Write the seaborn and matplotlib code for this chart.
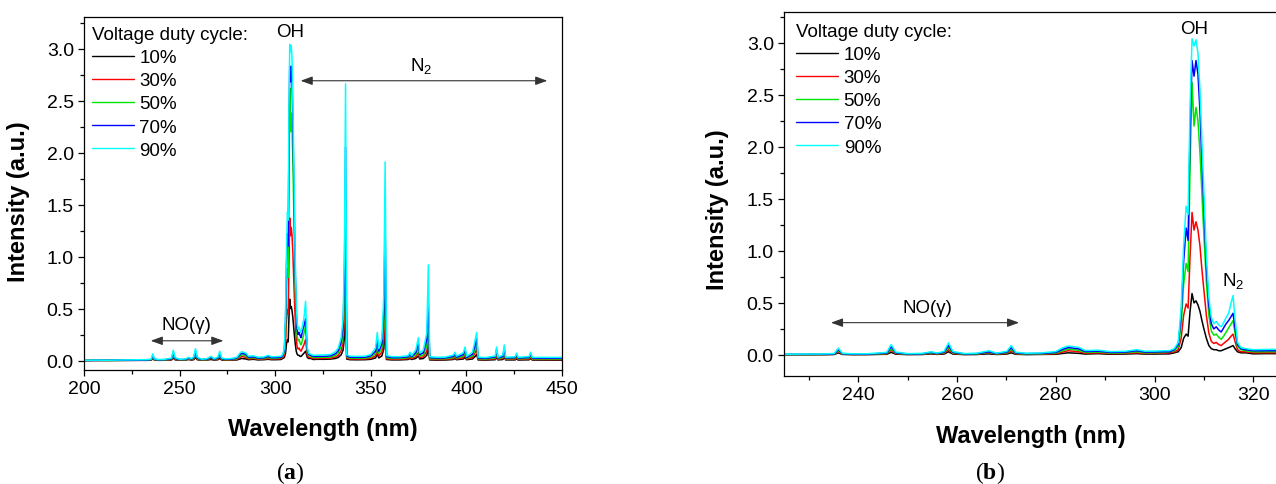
import matplotlib
matplotlib.use("Agg")
import matplotlib.pyplot as plt
from matplotlib.lines import Line2D
from matplotlib.ticker import MultipleLocator
import pandas as pd
import seaborn as sns

# Emission spectrum sampled on a shared wavelength grid (nm)
wavelength = [
    200, 206, 212, 218, 224, 230, 233,
    235.2, 236.0, 236.8, 239, 242, 245.8, 246.7, 247.6, 250, 253, 254.8, 256,
    257.4, 258.3, 259.2, 261.5, 264, 266.5, 268, 270.1, 271.0, 271.9, 274, 277,
    280, 281.5, 282.5, 283.5, 284.7, 286, 288.6, 291, 294, 296.4, 298, 300, 302,
    303.0, 304.0, 304.8, 305.4, 305.9, 306.4, 306.8, 307.2, 307.6, 308.0, 308.4,
    308.8, 309.2, 309.6, 310.0, 310.5, 311.0, 311.5, 312.0, 312.5, 313.0, 313.5,
    314.0, 314.5, 315.0, 315.5, 315.9, 316.3, 316.8, 317.5, 318.5, 320.0,
    322, 326, 329, 331.5, 333, 334.5, 335.5, 336.2, 336.8, 337.4, 339, 343, 347,
    350, 352.5, 353.4, 354.2, 355.8, 356.8, 357.5, 358.2, 361, 365, 369.5, 370.5,
    371.3, 373.5, 374.9, 375.6, 377.5, 379.3, 380.1, 380.8, 384, 389, 393.2,
    394.0, 394.8, 398.4, 399.3, 400.1, 403.2, 404.6, 405.4, 406.1, 410, 415.1,
    415.8, 416.5, 419.1, 419.8, 420.5, 425.5, 426.3, 427.0, 432.8, 433.6, 434.4,
    440, 445, 450,
]

duty_10 = [
    .000, .001, .000, .001, .001, .002, .002,
    .004, .020, .005, .002, .003, .006, .025, .007, .003, .004, .010, .005,
    .008, .030, .008, .003, .004, .010, .004, .008, .020, .006, .003, .004,
    .006, .014, .020, .018, .015, .008, .012, .006, .008, .012, .008, .008, .010,
    .010, .020, .030, .070, .160, .200, .180, .420, .590, .500, .520,
    .480, .420, .330, .250, .160, .090, .060, .050, .050, .040, .040,
    .050, .060, .070, .080, .090, .060, .030, .020, .020, .010,
    .012, .012, .014, .020, .030, .055, .100, .220, .530, .015, .008, .007, .008,
    .012, .025, .060, .025, .045, .110, .340, .010, .006, .006, .010, .020,
    .010, .020, .045, .015, .020, .050, .120, .006, .004, .005, .010,
    .020, .008, .015, .030, .008, .015, .040, .060, .006, .004, .008,
    .030, .006, .010, .035, .006, .006, .018, .005, .007, .020, .005,
    .004, .004, .004,
]

duty_30 = [
    .000, .001, .001, .002, .002, .003, .003,
    .006, .030, .007, .004, .004, .010, .045, .012, .005, .006, .015, .008,
    .014, .050, .014, .005, .006, .020, .007, .014, .040, .011, .006, .007,
    .012, .028, .040, .036, .030, .016, .020, .012, .014, .020, .014, .015, .017,
    .020, .030, .050, .160, .380, .490, .450, .950, 1.370, 1.200, 1.280,
    1.200, 1.050, .820, .620, .380, .210, .130, .110, .120, .100, .090,
    .110, .130, .150, .180, .200, .130, .050, .030, .030, .020,
    .020, .021, .023, .034, .050, .095, .170, .380, .920, .025, .015, .014, .015,
    .022, .045, .100, .045, .080, .190, .560, .018, .012, .012, .018, .032,
    .018, .035, .080, .028, .035, .090, .220, .012, .010, .011, .018,
    .035, .015, .028, .055, .015, .030, .075, .110, .012, .009, .016,
    .055, .012, .020, .065, .012, .013, .032, .011, .014, .035, .011,
    .010, .010, .010,
]

duty_50 = [
    .000, .002, .001, .002, .003, .004, .004,
    .008, .040, .010, .005, .006, .014, .060, .016, .007, .008, .020, .011,
    .020, .070, .019, .007, .009, .025, .010, .020, .055, .015, .009, .010,
    .018, .042, .055, .052, .044, .024, .028, .018, .020, .030, .020, .021, .024,
    .030, .040, .080, .280, .680, .880, .800, 1.800, 2.620, 2.200, 2.380,
    2.250, 1.950, 1.550, 1.150, .700, .380, .230, .190, .200, .170, .150,
    .180, .220, .260, .300, .330, .210, .080, .050, .040, .030,
    .030, .031, .034, .050, .075, .140, .250, .600, 1.550, .035, .024, .022, .024,
    .034, .070, .150, .070, .120, .320, .950, .028, .020, .020, .028, .045,
    .028, .055, .120, .042, .055, .140, .380, .020, .017, .018, .028,
    .050, .024, .042, .080, .023, .045, .110, .160, .018, .015, .025,
    .080, .018, .030, .095, .018, .020, .046, .017, .021, .050, .017,
    .016, .016, .016,
]

duty_70 = [
    .000, .002, .002, .003, .004, .005, .006,
    .010, .050, .012, .007, .008, .018, .080, .021, .009, .011, .025, .014,
    .026, .090, .025, .010, .012, .030, .013, .026, .070, .020, .012, .014,
    .024, .055, .070, .066, .058, .032, .036, .024, .026, .040, .027, .028, .031,
    .030, .050, .100, .380, .900, 1.220, 1.100, 2.150, 2.830, 2.680, 2.830,
    2.700, 2.350, 1.850, 1.400, .850, .480, .300, .250, .270, .240, .220,
    .260, .300, .330, .370, .400, .260, .100, .060, .050, .040,
    .040, .041, .045, .066, .095, .180, .320, .800, 2.050, .045, .032, .030, .032,
    .045, .090, .200, .090, .160, .450, 1.350, .038, .028, .028, .036, .060,
    .036, .075, .160, .056, .075, .200, .550, .028, .024, .025, .040,
    .065, .032, .056, .105, .030, .060, .150, .210, .025, .021, .034,
    .105, .025, .040, .120, .025, .027, .058, .024, .029, .065, .024,
    .022, .022, .022,
]

duty_90 = [
    .002, .004, .003, .005, .006, .008, .009,
    .014, .065, .016, .010, .011, .024, .100, .028, .012, .015, .030, .018,
    .034, .115, .032, .013, .016, .040, .017, .034, .090, .026, .016, .019,
    .032, .070, .085, .080, .072, .042, .045, .032, .034, .050, .036, .037, .040,
    .040, .060, .120, .450, 1.050, 1.430, 1.350, 2.400, 3.040, 2.970, 3.030,
    2.900, 2.550, 2.050, 1.550, .950, .550, .360, .300, .320, .290, .270,
    .310, .360, .400, .500, .570, .350, .120, .070, .060, .050,
    .052, .054, .058, .085, .120, .220, .400, 1.000, 2.660, .055, .042, .040, .042,
    .058, .120, .270, .115, .210, .620, 1.910, .048, .037, .037, .046, .080,
    .046, .100, .220, .072, .100, .270, .920, .036, .032, .033, .052,
    .080, .042, .075, .130, .040, .080, .200, .270, .033, .028, .044,
    .130, .032, .052, .150, .032, .036, .072, .031, .038, .080, .031,
    .030, .030, .030,
]

duty_labels = ["10%", "30%", "50%", "70%", "90%"]
duty_values = [duty_10, duty_30, duty_50, duty_70, duty_90]
line_colors = ["#000000", "#FF0000", "#00E600", "#0000FF", "#00FFFF"]

spectra = pd.concat(
    [pd.DataFrame({"wavelength": wavelength, "intensity": vals, "duty": lab})
     for lab, vals in zip(duty_labels, duty_values)],
    ignore_index=True,
)

sns.set_style("ticks")
plt.rcParams["font.family"] = ["Liberation Sans", "DejaVu Sans"]
plt.rcParams["mathtext.fontset"] = "custom"
plt.rcParams["mathtext.rm"] = "Liberation Sans"
plt.rcParams["mathtext.bf"] = "Liberation Serif:bold"
plt.rcParams["mathtext.default"] = "regular"
for key in ("text.color", "axes.labelcolor", "xtick.color", "ytick.color",
            "axes.edgecolor", "legend.labelcolor"):
    plt.rcParams[key] = "black"

W, H = 1276, 485
fig = plt.figure(figsize=(W / 100, H / 100), dpi=100)
fig.patch.set_facecolor("white")

ax_a = fig.add_axes([84 / W, (H - 370.9) / H, 478 / W, 352.6 / H])
ax_b = fig.add_axes([784 / W, (H - 376.7) / H, 494 / W, 364 / H])

arrow_props = dict(arrowstyle="<|-|>,head_length=0.55,head_width=0.2",
                   color="#333333", lw=0.8, mutation_scale=13,
                   shrinkA=0, shrinkB=0)


def style_axes(ax, xlim, ylim, xmajor, xminor, ylabel_y):
    sns.lineplot(data=spectra, x="wavelength", y="intensity", hue="duty",
                 hue_order=duty_labels, palette=line_colors, estimator=None,
                 sort=False, linewidth=1.1, legend=False, ax=ax)
    ax.set_xlim(*xlim)
    ax.set_ylim(*ylim)
    ax.xaxis.set_major_locator(MultipleLocator(xmajor))
    ax.xaxis.set_minor_locator(MultipleLocator(xminor))
    ax.yaxis.set_major_locator(MultipleLocator(0.5))
    ax.yaxis.set_minor_locator(MultipleLocator(0.25))
    ax.tick_params(which="major", direction="out", length=4.3, width=0.9,
                   labelsize=14, pad=3, color="black", labelcolor="black")
    ax.tick_params(which="minor", direction="out", length=2.6, width=0.9,
                   color="black")
    ax.tick_params(top=False, right=False, which="both")
    for sp in ax.spines.values():
        sp.set_visible(True)
        sp.set_linewidth(0.9)
        sp.set_color("black")
    ax.set_xlabel("Wavelength (nm)", fontsize=17, fontweight="bold")
    ax.set_ylabel("Intensity (a.u.)", fontsize=17, fontweight="bold")
    ax.xaxis.set_label_coords(0.5, -0.134)
    ax.yaxis.set_label_coords(-0.112, ylabel_y)
    ax.set_facecolor("white")


def add_legend(ax, anchor):
    handles = [Line2D([], [], color=c, lw=1.0) for c in line_colors]
    leg = ax.legend(handles, duty_labels, title="Voltage duty cycle:",
                    loc="upper left", bbox_to_anchor=anchor, frameon=False,
                    fontsize=13.5, title_fontsize=13.5, handlelength=2.25,
                    handletextpad=0.3, labelspacing=0.32, borderpad=0,
                    borderaxespad=0)
    leg._legend_box.align = "left"
    leg.get_title().set_color("black")


# Panel (a): full range
style_axes(ax_a, (200, 450), (-0.09, 3.3), 50, 25, 0.48)
add_legend(ax_a, (0.016, 0.975))
ax_a.text(307.7, 3.16, "OH", ha="center", va="center", fontsize=13.5)
ax_a.text(376.6, 2.84, r"N$_2$", ha="center", va="center", fontsize=13.5)
ax_a.annotate("", xy=(313.3, 2.69), xytext=(442.3, 2.69), arrowprops=arrow_props)
ax_a.text(253.7, 0.35, "NO(γ)", ha="center", va="center", fontsize=13.5)
ax_a.annotate("", xy=(234.9, 0.19), xytext=(272.9, 0.19), arrowprops=arrow_props)

# Panel (b): UV detail
style_axes(ax_b, (225, 325), (-0.2, 3.3), 20, 10, 0.458)
add_legend(ax_b, (0.024, 0.969))
ax_b.text(308.0, 3.14, "OH", ha="center", va="center", fontsize=13.5)
ax_b.text(316.0, 0.72, r"N$_2$", ha="center", va="center", fontsize=13.5)
ax_b.text(254.0, 0.46, "NO(γ)", ha="center", va="center", fontsize=13.5)
ax_b.annotate("", xy=(234.5, 0.31), xytext=(272.6, 0.31), arrowprops=arrow_props)

fig.text(290 / W, 1 - 473 / H, r"($\mathbf{a}$)", ha="center", va="center",
         fontsize=17, family="Liberation Serif")
fig.text(990 / W, 1 - 473 / H, r"($\mathbf{b}$)", ha="center", va="center",
         fontsize=17, family="Liberation Serif")

fig.savefig("out.png", dpi=100, facecolor="white")
